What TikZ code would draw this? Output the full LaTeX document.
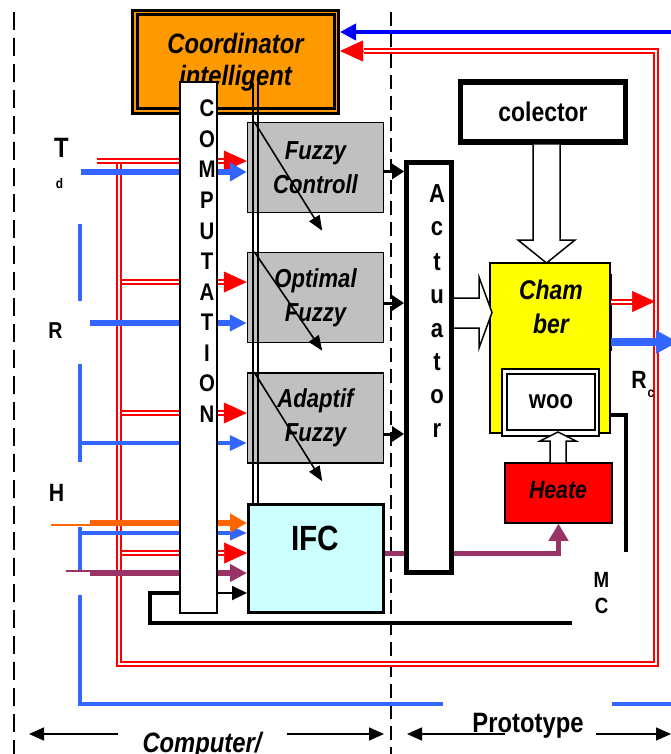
\documentclass[tikz,border=0pt]{standalone}
\usepackage{fontspec}
\setmainfont{Liberation Sans}[FakeStretch=0.85]
\usepackage{tikz}
\usetikzlibrary{arrows.meta}
\definecolor{coordorange}{HTML}{FF9900}
\definecolor{sigblue}{HTML}{3366FF}
\definecolor{topblue}{HTML}{0000FF}
\definecolor{sigorange}{HTML}{FF6600}
\definecolor{sigpurple}{HTML}{993366}
\definecolor{boxgray}{HTML}{C0C0C0}
\definecolor{ifccyan}{HTML}{CCFFFF}
\definecolor{chamyellow}{HTML}{FFFF00}

\begin{document}
\begin{tikzpicture}[x=1pt, y=-1pt,
  every node/.style={inner sep=0pt},
  lbl/.style={font=\bfseries\fontsize{#1}{#1}\selectfont, anchor=base},
  ilbl/.style={font=\bfseries\itshape\fontsize{#1}{#1}\selectfont, anchor=base},
  fbox/.style={draw, line width=1.5pt, fill=boxgray, minimum width=136pt, minimum height=90pt,
               align=center, font=\bfseries\itshape\fontsize{26}{34}\selectfont},
  redline/.style={draw=red, line width=2pt, double=white, double distance=2pt},
  redtip/.style={draw=red, line width=0.5pt, -{Triangle[length=23pt,width=21pt]}},
  sigarr/.style={-{Triangle[length=17pt,width=#1pt]}},
  blk/.style={line width=3pt, -{Triangle[length=12pt,width=15pt]}},
  diag/.style={line width=1.6pt, -{Triangle[length=15pt,width=12pt]}},
  hollow/.style={draw, line width=1.5pt, fill=white},
  dimarr/.style={line width=1.5pt, -{Triangle[length=15pt,width=13pt]}},
]
  \useasboundingbox (0,0) rectangle (671,754);

  \draw[line width=2.5pt, dash pattern=on 18pt off 8pt] (14,12) -- (14,754);
  \draw[line width=1.6pt, dash pattern=on 14pt off 7pt] (391,12) -- (391,754);

  \node[draw, line width=3pt, fill=coordorange, minimum width=206pt, minimum height=103pt] (coord) at (235.5,62) {};
  \node[draw, line width=3pt, minimum width=197pt, minimum height=94pt, align=center,
        font=\bfseries\itshape\fontsize{28}{32}\selectfont] (coordin) at (235.5,62) {Coordinator\\intelligent};

  \node[fbox] (fuzzy)   at (315.5,167.5) {Fuzzy\\Controll};
  \node[fbox] (optimal) at (315.5,297.5) {Optimal\\Fuzzy};
  \node[fbox] (adaptif) at (315.5,418)   {Adaptif\\Fuzzy};
  \node[draw, line width=3pt, fill=ifccyan, minimum width=134.5pt, minimum height=108.5pt] (ifc) at (315.75,558.25) {};
  \node[lbl=35] (ifctxt) at (315.5,550) {IFC};

  \coordinate (tin) at (81,172);
  \coordinate (rin) at (90,323);
  \coordinate (ain) at (80,443);
  \coordinate (hin) at (80,533);
  \coordinate (oin) at (90,523);
  \coordinate (pin) at (90,573);
  \coordinate (loop) at (150,593);

  \draw[redline] (119,164) -- (119,664) -- (656,664) -- (656,51) -- (364,51);
  \draw[redline] (97,161) -- (224,161);
  \foreach \y in {282,413,553}
    \draw[redline] (121.5,\y) -- (224,\y);
  \draw[redtip] (224,161) -- (fuzzy.west |- 0,161);
  \draw[redtip] (224,282) -- (optimal.west |- 0,282);
  \draw[redtip] (224,413) -- (adaptif.west |- 0,413);
  \draw[redtip] (224,553) -- (ifc.west |- 0,553);
  \draw[redtip] (364,51) -- (coord.east |- 0,51);
  \draw[topblue, line width=4.5pt, -{Triangle[length=16pt,width=16pt]}] (671,32) -- (coord.east |- 0,32);

  \draw[sigblue, line width=4pt] (80,224) -- (80,301);
  \draw[sigblue, line width=4pt] (80,364) -- (80,462);
  \draw[sigblue, line width=4pt] (80,527) -- (80,571);
  \draw[sigblue, line width=4pt] (80,595) -- (80,704) -- (443,704);
  \draw[sigblue, line width=4pt] (612,704) -- (671,704);
  \draw[sigblue, line width=6pt, sigarr=18] (tin) -- (fuzzy.west |- tin);
  \draw[sigblue, line width=5.5pt, sigarr=16] (rin) -- (optimal.west |- rin);
  \draw[sigblue, line width=3.5pt, sigarr=15] (ain) -- (adaptif.west |- ain);
  \draw[sigblue, line width=3.5pt, sigarr=14] (hin) -- (ifc.west |- hin);
  \draw[sigorange, line width=1.5pt] (51,525) -- (oin |- 0,525);
  \draw[sigorange, line width=6pt, sigarr=18] (oin) -- (ifc.west |- oin);
  \draw[sigpurple, line width=1.5pt] (66,571) -- (pin |- 0,571);
  \draw[sigpurple, line width=6pt, sigarr=17] (pin) -- (ifc.west |- pin);
  \draw[line width=4.5pt] (572,623) -- (loop |- 0,623) -- (loop) -- (180,593);
  \draw[line width=2pt, -{Triangle[length=15pt,width=14pt]}] (175,593) -- (ifc.west |- loop);

  \node[draw, line width=1.5pt, fill=white, minimum width=37pt, minimum height=531pt] (comp) at (198.5,347.5) {};
  \foreach \ch [count=\i from 0] in {C,O,M,P,U,T,A,T,I,O,N}
    \node[lbl=24] (comp\i) at (207,{117+30.5*\i}) {\ch};

  \draw[line width=2pt] (253,83) -- (253,0 |- ifc.north);
  \draw[line width=2pt] (258,83) -- (258,0 |- ifc.north);
  \foreach \b/\d in {fuzzy/109, optimal/99, adaptif/109}
    \draw[diag] ([xshift=7.5pt]\b.north west) -- ++(68,\d);

  \draw[blk] (fuzzy.east |- 0,171.5) -- (404,171.5);
  \draw[blk] (optimal.east |- 0,303) -- (404,303);
  \draw[blk] (adaptif.east |- 0,434) -- (404,434);

  \node[draw, line width=1.5pt, fill=red, minimum width=107pt, minimum height=60pt] (heater) at (558.5,493) {};
  \node[ilbl=25] (heatetxt) at (558,498) {Heate};
  \draw[sigpurple, line width=5pt, -{Triangle[length=17pt,width=19pt]}] (ifc.east |- 0,553) -| (heater.south);

  \node[draw, line width=5pt, fill=white, minimum width=45pt, minimum height=410pt] (act) at (429,367.5) {};
  \foreach \ch/\y [count=\i] in {A/202, c/235, t/270, u/303, a/337, t/370, o/403, r/437}
    \node[lbl=26] (act\i) at (437,\y) {\ch};

  \node[draw, line width=5.5pt, minimum width=165pt, minimum height=60pt,
        font=\bfseries\fontsize{27}{27}\selectfont] (col) at (543,112) {colector};
  \draw[hollow] (533,0 |- col.south) -- (533,240) -- (518,240) -- (546.5,263) -- (575,240) -- (560,240) -- (560,0 |- col.south);

  \node[draw, line width=1.5pt, fill=chamyellow, minimum width=120pt, minimum height=170pt] (chamber) at (550,348) {};
  \node[align=center, font=\bfseries\itshape\fontsize{27}{34}\selectfont] (chamtxt) at (551,307) {Cham\\ber};
  \draw[hollow] (act.east |- 0,298) -- (479,298) -- (479,277) -- (492,312.5) -- (479,348) -- (479,328) -- (act.east |- 0,328);
  \draw[line width=2.5pt] (611,274) -- (611,351);

  \node[draw, line width=2.5pt, fill=white, minimum width=97pt, minimum height=67pt] (wooout) at (550.5,402.5) {};
  \node[draw, line width=2.5pt, minimum width=88pt, minimum height=56pt,
        font=\bfseries\fontsize{26}{26}\selectfont] (woo) at (551,402) {woo};
  \draw[hollow] (550,0 |- heater.north) -- (550,441) -- (540,441) -- (558,432) -- (576,441) -- (566,441) -- (566,0 |- heater.north);
  \draw[line width=3.5pt] (chamber.east |- 0,415) -- (626,415) -- (626,552);

  \draw[redline] (chamber.east |- 0,301.5) -- (633,301.5);
  \draw[redtip] (633,301.5) -- (655,301.5);
  \draw[sigblue, line width=8pt, -{Triangle[length=22pt,width=22pt]}] (chamber.east |- 0,342) -- (678,342);

  \node[lbl=28] (tlab)  at (61.5,158) {T};
  \node[lbl=14] (tsub)  at (59.5,189) {d};
  \node[lbl=23] (rlab)  at (55.5,338) {R};
  \node[lbl=25] (hlab)  at (56.5,501) {H};
  \node[lbl=25] (rclab) at (639,388) {R};
  \node[lbl=14] (rcsub) at (651,397) {c};
  \node[lbl=22] (mlab)  at (601.5,587) {M};
  \node[lbl=22] (clab)  at (601.5,613) {C};
  \node[ilbl=28] (computer)  at (202,752) {Computer/};
  \node[lbl=28]  (prototype) at (528,732) {Prototype};

  \draw[dimarr] (118,734) -- (29,734);
  \draw[dimarr] (287,734) -- (384,734);
  \draw[dimarr] (505,734) -- (407,734);
  \draw[dimarr] (596,734) -- (671,734);
\end{tikzpicture}
\end{document}
